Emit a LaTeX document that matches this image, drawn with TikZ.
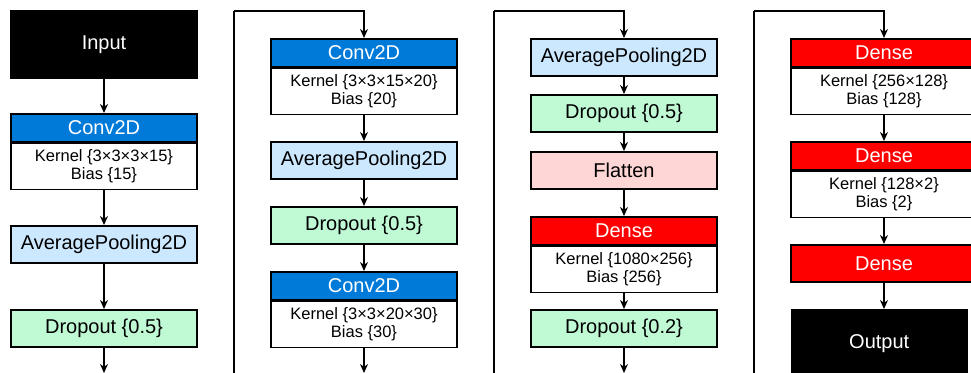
\documentclass[tikz,border=0pt]{standalone}
\usepackage{fontspec}
\setmainfont{Liberation Sans}
\usetikzlibrary{arrows.meta,positioning}

\definecolor{convc}{RGB}{0,122,217}
\definecolor{poolc}{RGB}{204,232,255}
\definecolor{dropc}{RGB}{191,250,213}
\definecolor{flatc}{RGB}{255,214,214}
\definecolor{densec}{RGB}{255,0,0}

\begin{document}
\begin{tikzpicture}[
  x=1pt, y=-1pt,
  >=Stealth,
  arr/.style={-{Stealth[length=9pt,width=8pt]}, line width=1.4pt},
  layer/.style={draw=black, line width=1.5pt, minimum width=186pt, inner sep=0pt,
                font=\fontsize{20}{24}\selectfont},
  plain/.style={layer, minimum height=37pt},
  blk/.style={layer, fill=black, text=white, minimum height=67pt},
  head/.style={layer, text=white, minimum height=28pt},
  body/.style={layer, fill=white, minimum height=46pt, align=center,
               font=\fontsize{16.5}{18}\selectfont}
]

\clip (0,0) rectangle (971,372);

% --- x locations of the four columns
\def\xA{104}
\def\xB{364}
\def\xC{624}
\def\xD{884}

% --- Column 1
\node[blk, anchor=north] (input) at (\xA,10) {Input};
\node[head, fill=convc, anchor=north] (conv1) at (\xA,113) {Conv2D};
\node[body, below=0pt of conv1] (conv1b) {Kernel \{3×3×3×15\}\\Bias \{15\}};
\node[plain, fill=poolc, anchor=north] (pool1) at (\xA,225) {AveragePooling2D};
\node[plain, fill=dropc, anchor=north] (drop1) at (\xA,309) {Dropout \{0.5\}};
\coordinate (e1) at (\xA,373);

\draw[arr] (input.south) -- (conv1.north);
\draw[arr] (conv1b.south) -- (pool1.north);
\draw[arr] (pool1.south) -- (drop1.north);
\draw[arr] (drop1.south) -- (e1);

% --- Column 2
\node[head, fill=convc, anchor=north] (conv2) at (\xB,38) {Conv2D};
\node[body, below=0pt of conv2] (conv2b) {Kernel \{3×3×15×20\}\\Bias \{20\}};
\node[plain, fill=poolc, anchor=north] (pool2) at (\xB,141) {AveragePooling2D};
\node[plain, fill=dropc, anchor=north] (drop2) at (\xB,206) {Dropout \{0.5\}};
\node[head, fill=convc, anchor=north] (conv3) at (\xB,271) {Conv2D};
\node[body, below=0pt of conv3] (conv3b) {Kernel \{3×3×20×30\}\\Bias \{30\}};
\coordinate (s2) at (234,373);
\coordinate (t2) at (234,11);
\coordinate (e2) at (\xB,373);

\draw[line width=1.4pt] (s2) -- (t2);
\draw[arr] (t2) -| (conv2.north);
\draw[arr] (conv2b.south) -- (pool2.north);
\draw[arr] (pool2.south) -- (drop2.north);
\draw[arr] (drop2.south) -- (conv3.north);
\draw[arr] (conv3b.south) -- (e2);

% --- Column 3
\node[plain, fill=poolc, anchor=north] (pool3) at (\xC,38) {AveragePooling2D};
\node[plain, fill=dropc, anchor=north] (drop3) at (\xC,94) {Dropout \{0.5\}};
\node[plain, fill=flatc, anchor=north] (flat) at (\xC,151) {Flatten};
\node[head, fill=densec, anchor=north] (dense1) at (\xC,216) {Dense};
\node[body, below=0pt of dense1] (dense1b) {Kernel \{1080×256\}\\Bias \{256\}};
\node[plain, fill=dropc, anchor=north] (drop4) at (\xC,309) {Dropout \{0.2\}};
\coordinate (s3) at (494,373);
\coordinate (t3) at (494,11);
\coordinate (e3) at (\xC,373);

\draw[line width=1.4pt] (s3) -- (t3);
\draw[arr] (t3) -| (pool3.north);
\draw[arr] (pool3.south) -- (drop3.north);
\draw[arr] (drop3.south) -- (flat.north);
\draw[arr] (flat.south) -- (dense1.north);
\draw[arr] (dense1b.south) -- (drop4.north);
\draw[arr] (drop4.south) -- (e3);

% --- Column 4
\node[head, fill=densec, anchor=north] (dense2) at (\xD,38) {Dense};
\node[body, below=0pt of dense2] (dense2b) {Kernel \{256×128\}\\Bias \{128\}};
\node[head, fill=densec, anchor=north] (dense3) at (\xD,141) {Dense};
\node[body, below=0pt of dense3] (dense3b) {Kernel \{128×2\}\\Bias \{2\}};
\node[plain, fill=densec, text=white, anchor=north] (dense4) at (\xD,244) {Dense};
\node[blk, minimum width=175pt, anchor=north west] (output) at (791,309) {Output};
\coordinate (s4) at (754,373);
\coordinate (t4) at (754,11);

\draw[line width=1.4pt] (s4) -- (t4);
\draw[arr] (t4) -| (dense2.north);
\draw[arr] (dense2b.south) -- (dense3.north);
\draw[arr] (dense3b.south) -- (dense4.north);
\draw[arr] (dense4.south) -- (dense4.south |- output.north);

\end{tikzpicture}
\end{document}
